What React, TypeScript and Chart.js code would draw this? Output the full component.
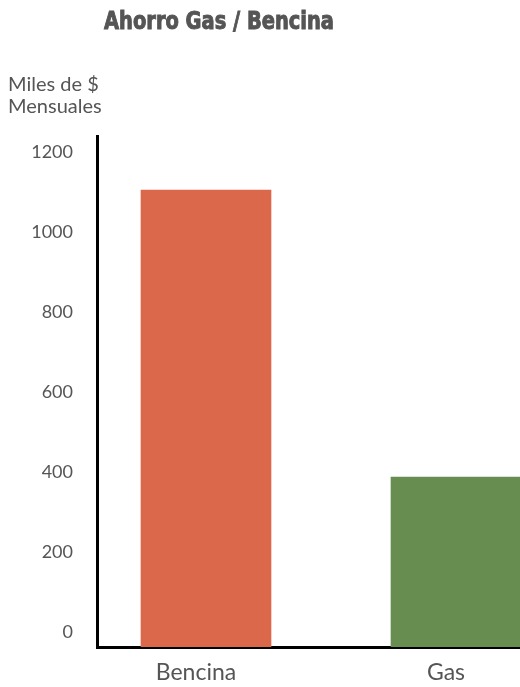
import React, { useEffect, useRef } from "react";
import { Chart, registerables } from "chart.js";

Chart.register(...registerables);

const categories = ["Bencina", "Gas"];
const values = [1105, 387];
const barColors = ["#DC684B", "#678E50"];
const yTicks = [0, 200, 400, 600, 800, 1000, 1200];
const titleText = "Ahorro Gas / Bencina";
const yLabelLines = ["Miles de $", "Mensuales"];

const Y_MIN = -38;
const Y_MAX = 1240;
const X_MIN = -0.436;
const X_MAX = 1.256;

const FONT = "Lato, 'DejaVu Sans', sans-serif";
const TEXT = "#555555";

const textPlugin = {
  id: "textPlugin",
  afterDraw(chart: any) {
    const ctx = chart.ctx;
    ctx.save();
    ctx.fillStyle = TEXT;
    ctx.strokeStyle = TEXT;
    ctx.textAlign = "left";
    ctx.textBaseline = "alphabetic";
    ctx.save();
    ctx.font = "bold 24px 'DejaVu Sans Condensed', sans-serif";
    const w = ctx.measureText(titleText).width;
    ctx.translate(104, 29);
    ctx.scale(230 / w, 1);
    ctx.lineWidth = 0.9;
    ctx.fillText(titleText, 0, 0);
    ctx.strokeText(titleText, 0, 0);
    ctx.restore();
    ctx.font = "20px " + FONT;
    ctx.fillText(yLabelLines[0], 8, 91);
    ctx.fillText(yLabelLines[1], 8, 113);
    ctx.restore();
  },
};

export default function App() {
  const ref = useRef<HTMLCanvasElement>(null);
  useEffect(() => {
    if (!ref.current) return;
    const chart = new Chart(ref.current, {
      type: "bar",
      data: {
        datasets: [
          {
            data: categories.map((c, i) => ({ x: i, y: values[i] })),
            backgroundColor: barColors,
            borderWidth: 0,
            barThickness: 130,
            base: Y_MIN,
          } as any,
        ],
      },
      options: {
        animation: false,
        responsive: false,
        maintainAspectRatio: false,
        layout: { padding: { top: 136, left: 0, right: 0, bottom: 0 } },
        plugins: {
          legend: { display: false },
          tooltip: { enabled: false },
          title: { display: false },
        },
        scales: {
          x: {
            type: "linear",
            min: X_MIN,
            max: X_MAX,
            offset: false,
            grid: { display: false, drawTicks: false },
            border: { display: true, color: "#000000", width: 3 },
            afterBuildTicks: (scale: any) => {
              scale.ticks = categories.map((_, i) => ({ value: i }));
            },
            afterFit: (scale: any) => {
              scale.height = 40;
            },
            ticks: {
              autoSkip: false,
              maxRotation: 0,
              padding: 12,
              labelOffset: -10,
              color: TEXT,
              font: { family: FONT, size: 23 },
              callback: (v: any) => categories[v as number] ?? "",
            },
          },
          y: {
            type: "linear",
            min: Y_MIN,
            max: Y_MAX,
            grid: { display: false, drawTicks: false },
            border: { display: true, color: "#000000", width: 3 },
            afterBuildTicks: (scale: any) => {
              scale.ticks = yTicks.map((v) => ({ value: v }));
            },
            afterFit: (scale: any) => {
              scale.width = 97;
            },
            ticks: {
              padding: 24,
              color: TEXT,
              font: { family: FONT, size: 18 },
              callback: (v: any) => String(v),
            },
          },
        },
      },
      plugins: [textPlugin],
    });
    return () => chart.destroy();
  }, []);

  return (
    <div style={{ position: "fixed", left: 0, top: 0, width: 520, height: 687, background: "#fff" }}>
      <canvas ref={ref} width={520} height={687} style={{ width: 520, height: 687, display: "block" }} />
    </div>
  );
}
